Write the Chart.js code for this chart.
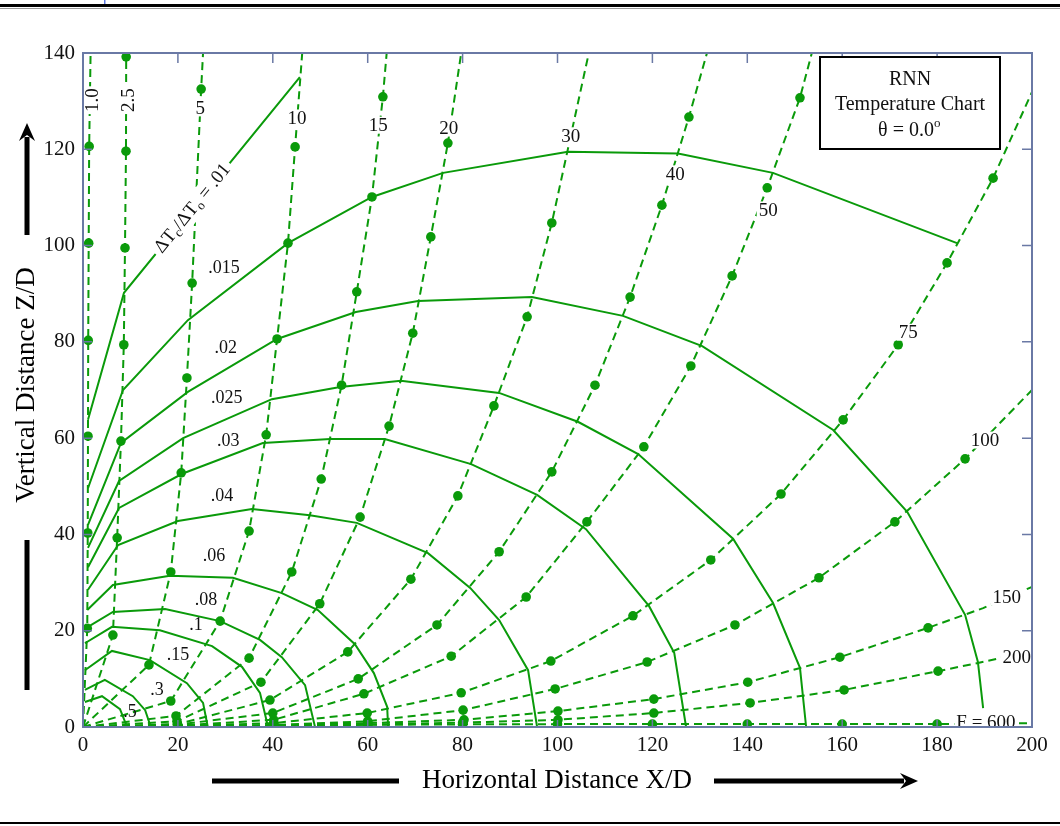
<!DOCTYPE html>
<html><head><meta charset="utf-8">
<script src="https://cdn.jsdelivr.net/npm/chart.js@4.4.1/dist/chart.umd.min.js"></script>
<style>html,body{margin:0;padding:0;background:#fff;}canvas{display:block;}</style>
</head><body>
<canvas id="c" width="1060" height="826"></canvas>
<script>
// ---------- tick values ----------
const xTickValues = [0,20,40,60,80,100,120,140,160,180,200];
const yTickValues = [0,20,40,60,80,100,120,140];

// ---------- F trajectories (dashed): dots every 20 units of path, plus end points ----------
const F_names = ['1.0','2.5','5','10','15','20','30','40','50','75','100','150','200','600'];
const dotsF1   = [[0.9,20.5],[1.0,40.3],[1.05,60.4],[1.1,80.3],[1.2,100.5],[1.3,120.6]];
const endF1    = [[1.6,140]];
const dotsF2_5 = [[6.3,19.1],[7.2,39.3],[8.0,59.4],[8.6,79.4],[8.85,99.5],[9.06,119.6],[9.1,139.2]];
const endF2_5  = [[9.1,140]];
const dotsF5   = [[13.9,12.9],[18.5,32.2],[20.7,52.8],[21.9,72.5],[23.0,92.2],[24.9,132.5]];
const endF5    = [[25.3,140]];
const dotsF10  = [[18.5,5.4],[28.9,22.0],[35.0,40.7],[38.6,60.7],[40.9,80.6],[43.2,100.5],[44.7,120.5]];
const endF10   = [[46.2,140]];
const dotsF15  = [[19.6,2.3],[35.0,14.3],[44.0,32.2],[50.2,51.5],[54.5,71.0],[57.7,90.4],[60.9,110.1],[63.2,130.9]];
const endF15   = [[64.0,140]];
const dotsF20  = [[19.8,1.2],[37.5,9.3],[49.9,25.6],[58.4,43.6],[64.5,62.5],[69.5,81.8],[73.3,101.8],[76.9,121.3]];
const endF20   = [[79.7,140]];
const dotsF30  = [[19.9,0.6],[39.4,5.6],[55.8,15.6],[69.1,30.7],[79.0,48.0],[86.6,66.7],[93.6,85.2],[98.8,104.7]];
const endF30   = [[106.6,140]];
const dotsF40  = [[19.9,0.5],[40.0,2.9],[58.0,10.0],[74.6,21.2],[87.7,36.4],[98.8,53.0],[107.9,71.0],[115.3,89.3],[122.0,108.4],[127.7,126.7]];
const endF40   = [[131.5,140]];
const dotsF50  = [[20,0.3],[40.2,1.5],[59.2,6.9],[77.6,14.7],[93.4,27.0],[106.2,42.6],[118.2,58.2],[128.1,75.0],[136.8,93.7],[144.2,112.0],[151.1,130.7]];
const endF50   = [[153.6,140]];
const dotsF75  = [[20,0.2],[40.2,0.8],[59.9,2.9],[79.7,7.1],[98.6,13.7],[115.9,23.1],[132.3,34.7],[147.1,48.4],[160.2,63.8],[171.8,79.4],[182.1,96.4],[191.8,114.0]];
const endF75   = [[200,131.9]];
const dotsF100 = [[20,0.1],[40,0.4],[60,1.2],[80.1,3.5],[99.5,7.9],[118.9,13.5],[137.4,21.2],[155.1,31.0],[171.1,42.6],[185.9,55.7]];
const endF100  = [[200,70]];
const dotsF150 = [[20,0.1],[40,0.3],[60,0.8],[80.3,1.5],[100.1,3.3],[120.3,5.8],[140.1,9.3],[159.5,14.5],[178.1,20.6]];
const endF150  = [[189.7,24.7],[200,29.1]];
const dotsF200 = [[20,0.05],[40,0.2],[60,0.5],[80,0.9],[100.1,1.5],[120.3,2.9],[140.6,5.0],[160.4,7.7],[180.2,11.6]];
const endF200  = [[188.6,13.3],[200,15.8]];
const dotsF600 = [[20,0.15],[40,0.3],[60,0.45],[80,0.55],[100,0.6],[120,0.6],[140,0.6],[160,0.6],[180,0.6]];
const endF600  = [[200,0.8]];

// ---------- temperature contours ΔTc/ΔTo (solid) ----------
const C_names = ['.01','.015','.02','.025','.03','.04','.06','.08','.1','.15','.3','.5'];
const c01  = [[1.05,63.8],[8.64,90.2],[45.7,135]];
const c015 = [[1.05,49.6],[8.43,70],[22.1,84.5],[43.2,100.5],[60.9,110.1],[75.9,115.1],[102.2,119.5],[125.4,119.1],[145.4,115.1],[184.2,100.5]];
const c02  = [[1.05,42],[8.0,59],[22.1,69.6],[40.9,80.6],[57.5,86.2],[70.6,88.5],[94.6,89.3],[113.8,85.4],[130.5,79.1],[158.1,61.7],[173.7,44.7],[185.9,23.3],[188.6,13.5],[189.7,3.9]];
const c025 = [[1.05,37.2],[7.6,51.1],[21.1,60.0],[39.8,68.1],[54.2,70.6],[67,71.9],[87.7,69.4],[104.3,63.4],[117,56.7],[137,39.1],[145.4,25.8],[151.1,12.3],[152.4,0]];
const c03  = [[1.05,33.2],[7.6,45.5],[20.9,52.6],[37.9,59],[52.1,59.8],[63.6,59.8],[81.8,54.6],[95.7,48.2],[106,41.1],[119.3,25.1],[124.6,15.4],[127.1,0]];
const c04  = [[1.05,28.5],[7.4,37.8],[20,42.8],[35.6,45.3],[47.8,44],[57.7,42.4],[72.7,36.1],[81.6,28.9],[87.7,22.2],[93.8,11.8],[95.7,0]];
const c06  = [[0.9,24.3],[6.3,29.5],[18.3,31.4],[31.6,31],[41.9,27.8],[49.5,24.3],[57.3,17.2],[61.3,11.2],[64.1,4.2],[64.3,0]];
const c08  = [[0.7,20.6],[6.3,23.9],[17.3,24.5],[28.9,22],[37.3,18.1],[41.9,14.5],[46.8,8.7],[48.9,0]];
const c1   = [[0.4,17.4],[6.1,20.8],[16.2,20.1],[27.2,16.8],[33.5,12.5],[37.3,7.1],[39,0]];
const c15  = [[0.4,11.8],[6.1,15.8],[14.1,13.9],[21.9,9.1],[25.3,5],[26.3,0]];
const c3   = [[0.4,7.7],[4.6,9.8],[10.5,6.4],[13.1,3.5],[14.3,0]];
const c5   = [[0.4,5.2],[4,6.4],[7.8,3.7],[9.3,0]];

// ---------- label anchor values (data units) ----------
const fLabelText = ['1.0','2.5','5','10','15','20','30','40','50','75','100','150','200','F = 600'];
const fLabelX    = [1.9, 9.5, 24.7, 45.1, 62.2, 77.1, 102.8, 124.8, 144.4, 173.9, 190.1, 194.7, 196.8, 190.3];
const fLabelY    = [130.2,130.2,128.6,126.5,125.0,124.4,122.8,114.9,107.4,82.0, 59.6, 27.0, 14.5, 1.0];
const cLabelText = ['.015','.02','.025','.03','.04','.06','.08','.1','.15','.3','.5'];
const cLabelX    = [29.7,30.1,30.3,30.6,29.3,27.6,25.9,23.8,20.0,15.6,9.9];
const cLabelY    = [95.3,78.7,68.3,59.4,48.0,35.5,26.4,21.2,15.0,7.7,3.1];

// ---------- build datasets ----------
const GREEN = '#0a9a0a';
const FRAME = '#6a79a5';
const SERIF = '"Liberation Serif","Times New Roman",serif';
const toXY = a => a.map(p => ({x:p[0], y:p[1]}));
const contourSets = [c01,c015,c02,c025,c03,c04,c06,c08,c1,c15,c3,c5].map(c => ({
  data: toXY(c), showLine:true, borderColor:GREEN, borderWidth:2, pointRadius:0, tension:0, fill:false
}));
const fDots = [dotsF1,dotsF2_5,dotsF5,dotsF10,dotsF15,dotsF20,dotsF30,dotsF40,dotsF50,dotsF75,dotsF100,dotsF150,dotsF200,dotsF600];
const fEnds = [endF1,endF2_5,endF5,endF10,endF15,endF20,endF30,endF40,endF50,endF75,endF100,endF150,endF200,endF600];
const fSets = fDots.map((d,i) => {
  const pts = [[0,0], ...d, ...fEnds[i]];
  return {
    data: toXY(pts), showLine:true, borderColor:GREEN, borderWidth:2, borderDash:[8,5],
    pointRadius: pts.map((p,j) => (j>0 && j<=d.length) ? 4.8 : 0),
    pointBackgroundColor:GREEN, pointBorderColor:GREEN, pointBorderWidth:0, tension:0, fill:false
  };
});

function arrowH(ctx,x1,x2,y,w,head){
  ctx.fillStyle='#000';
  if(head){ ctx.fillRect(x1,y-w/2,x2-x1-14,w); ctx.beginPath(); ctx.moveTo(x2,y); ctx.lineTo(x2-18,y-8); ctx.lineTo(x2-12,y); ctx.lineTo(x2-18,y+8); ctx.closePath(); ctx.fill(); }
  else ctx.fillRect(x1,y-w/2,x2-x1,w);
}

const deco = {
  id:'deco',
  afterDatasetsDraw(chart){
    const ctx = chart.ctx, xs = chart.scales.x, ys = chart.scales.y, a = chart.chartArea;
    ctx.save();
    ctx.font = '19px '+SERIF; ctx.textAlign='center'; ctx.textBaseline='middle';
    fLabelText.forEach((t,i) => {
      const px = xs.getPixelForValue(fLabelX[i]), py = ys.getPixelForValue(fLabelY[i]);
      const w = ctx.measureText(t).width + 4, h = 17;
      ctx.save(); ctx.translate(px,py);
      if (i < 2) ctx.rotate(-Math.PI/2);
      ctx.fillStyle='#fff'; ctx.fillRect(-w/2,-h/2,w,h);
      ctx.fillStyle='#111'; ctx.fillText(t,0,1);
      ctx.restore();
    });
    ctx.font = '18px '+SERIF;
    cLabelText.forEach((t,i) => {
      ctx.fillStyle='#111';
      ctx.fillText(t, xs.getPixelForValue(cLabelX[i]), ys.getPixelForValue(cLabelY[i]));
    });
    {
      const p1x = xs.getPixelForValue(c01[1][0]), p1y = ys.getPixelForValue(c01[1][1]);
      const p2x = xs.getPixelForValue(c01[2][0]), p2y = ys.getPixelForValue(c01[2][1]);
      const ang = Math.atan2(p2y-p1y, p2x-p1x);
      const cx = p1x + (p2x-p1x)*0.39, cy = p1y + (p2y-p1y)*0.39;
      const parts = [['ΔT',0,19],['c',5,13],['/ΔT',0,19],['o',5,13],[' = .01',0,19]];
      let tw = 0; parts.forEach(p => { ctx.font = p[2]+'px '+SERIF; tw += ctx.measureText(p[0]).width; });
      ctx.save(); ctx.translate(cx,cy); ctx.rotate(ang);
      ctx.fillStyle='#fff'; ctx.fillRect(-tw/2-4,-11,tw+8,22);
      ctx.fillStyle='#111'; ctx.textAlign='left';
      let x = -tw/2;
      parts.forEach(p => { ctx.font = p[2]+'px '+SERIF; ctx.fillText(p[0], x, p[1]); x += ctx.measureText(p[0]).width; });
      ctx.restore();
    }
    ctx.strokeStyle = FRAME; ctx.lineWidth = 2;
    ctx.strokeRect(a.left, a.top, a.right-a.left, a.bottom-a.top);
    ctx.lineWidth = 1.5;
    ctx.beginPath();
    xTickValues.forEach(v => { const p = xs.getPixelForValue(v); ctx.moveTo(p,a.top); ctx.lineTo(p,a.top+10); ctx.moveTo(p,a.bottom); ctx.lineTo(p,a.bottom-7); });
    yTickValues.forEach(v => { const p = ys.getPixelForValue(v); ctx.moveTo(a.left,p); ctx.lineTo(a.left+9,p); ctx.moveTo(a.right,p); ctx.lineTo(a.right-10,p); });
    ctx.stroke();
    ctx.restore();
  },
  afterDraw(chart){
    const ctx = chart.ctx;
    ctx.save();
    ctx.fillStyle='#000'; ctx.fillRect(0,4,1060,3); ctx.fillStyle='#999'; ctx.fillRect(0,8,1060,1);
    ctx.fillStyle='#000'; ctx.fillRect(0,822,1060,2);
    ctx.fillStyle='#5d78e0'; ctx.fillRect(104,0,1.5,4);
    ctx.fillStyle='#000'; ctx.font='27px '+SERIF; ctx.textAlign='center'; ctx.textBaseline='middle';
    ctx.fillText('Horizontal Distance X/D', 557, 781);
    arrowH(ctx,212,399,781,5,false);
    arrowH(ctx,714,918,781,5,true);
    ctx.save(); ctx.translate(27,385); ctx.rotate(-Math.PI/2);
    ctx.fillText('Vertical Distance Z/D', 0, 0);
    arrowH(ctx,-305,-155,0,5,false);
    arrowH(ctx,150,262,0,5,true);
    ctx.restore();
    ctx.fillStyle='#fff'; ctx.fillRect(820,57,180,92);
    ctx.strokeStyle='#000'; ctx.lineWidth=2; ctx.strokeRect(820,57,180,92);
    ctx.fillStyle='#111'; ctx.font='20px '+SERIF;
    ctx.fillText('RNN', 910, 80);
    ctx.fillText('Temperature Chart', 910, 105);
    ctx.textAlign='left';
    const t = 'θ = 0.0'; const tw = ctx.measureText(t).width;
    ctx.fillText(t, 910 - (tw+8)/2, 131);
    ctx.font='13px '+SERIF; ctx.fillText('o', 910 - (tw+8)/2 + tw, 124);
    ctx.restore();
  }
};

new Chart(document.getElementById('c'), {
  type:'scatter',
  data:{ datasets:[...contourSets, ...fSets] },
  options:{
    responsive:false, animation:false, events:[], devicePixelRatio:1,
    layout:{ padding:{ left:0, right:28, top:53, bottom:0 } },
    plugins:{ legend:{display:false}, tooltip:{enabled:false} },
    scales:{
      x:{ type:'linear', min:0, max:200,
          afterBuildTicks(s){ s.ticks = xTickValues.map(v=>({value:v})); },
          afterFit(s){ s.height = 99; },
          ticks:{ font:{family:SERIF,size:21}, color:'#111', padding:6, maxRotation:0, autoSkip:false },
          grid:{ display:false, drawTicks:false }, border:{ display:false } },
      y:{ type:'linear', min:0, max:140,
          afterBuildTicks(s){ s.ticks = yTickValues.map(v=>({value:v})); },
          afterFit(s){ s.width = 83; },
          ticks:{ font:{family:SERIF,size:21}, color:'#111', padding:8, autoSkip:false },
          grid:{ display:false, drawTicks:false }, border:{ display:false } }
    }
  },
  plugins:[deco]
});
</script>
</body></html>
